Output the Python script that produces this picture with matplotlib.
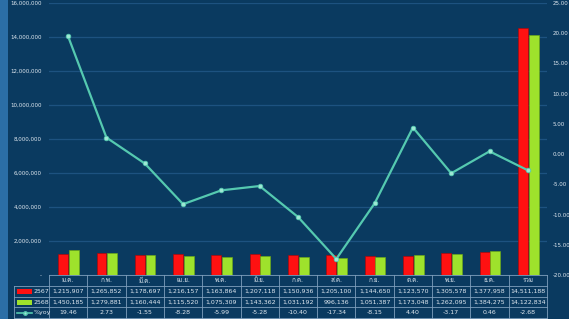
import matplotlib
matplotlib.use("Agg")
import matplotlib.pyplot as plt
import numpy as np
from matplotlib.lines import Line2D
from matplotlib.patches import Rectangle

plt.rcParams['font.family'] = ['DejaVu Sans', 'Loma']

months = ["ม.ค.", "ก.พ.", "มี.ค.", "เม.ย.", "พ.ค.", "มิ.ย.", "ก.ค.", "ส.ค.",
          "ก.ย.", "ต.ค.", "พ.ย.", "ธ.ค.", "รวม"]
y2567 = [1215907, 1265852, 1178697, 1216157, 1163864, 1207118, 1150936,
         1205100, 1144650, 1123570, 1305578, 1377958, 14511188]
y2568 = [1450185, 1279881, 1160444, 1115520, 1075309, 1143362, 1031192,
         996136, 1051387, 1173048, 1262095, 1384275, 14122834]
yoy = [19.46, 2.73, -1.55, -8.28, -5.99, -5.28, -10.40, -17.34, -8.15,
       4.40, -3.17, 0.46, -2.68]
series_names = ["2567", "2568", "%yoy"]

W, H = 569, 319
BG = '#0a3a60'
TXT = '#dfe8f0'
GRID = '#1d5280'
TBL = '#7f9fbd'
RED = '#ff1111'
GREEN = '#9ee22c'
LINE = '#55c9b0'

fig = plt.figure(figsize=(W / 100, H / 100), dpi=100, facecolor=BG)

def fx(px):
    return px / W

def fy(py):
    return 1 - py / H

# left strip artifact
fig.patches.append(Rectangle((0, 0), fx(8), 1, transform=fig.transFigure,
                             facecolor='#2b6ea6', edgecolor='none', zorder=-10))

L, R, T, B = 49, 547, 3, 275
ax = fig.add_axes([fx(L), fy(B), fx(R - L), (B - T) / H])
ax.set_facecolor(BG)
x = np.arange(len(months))
bw = 0.26
ax.bar(x - 0.13, y2567, width=bw, color=RED, edgecolor='#b30000', linewidth=0.4, zorder=3)
ax.bar(x + 0.15, y2568, width=bw, color=GREEN, edgecolor='#6fae10', linewidth=0.4, zorder=3)
ax.set_xlim(-0.5, len(months) - 0.5)
ax.set_ylim(0, 16000000)
ticks = np.arange(0, 16000001, 2000000)
ax.set_yticks(ticks)
ax.set_yticklabels(['-'] + [f"{int(t):,}" for t in ticks[1:]], fontsize=4.0, color=TXT)
ax.set_xticks([])
ax.tick_params(axis='y', length=0, pad=5)
ax.grid(axis='y', color=GRID, linewidth=0.9, zorder=0)
for s in ax.spines.values():
    s.set_visible(False)

ax2 = ax.twinx()
ax2.set_ylim(-20, 25)
rt = np.arange(-20, 26, 5)
ax2.set_yticks(rt)
ax2.set_yticklabels([f"{v:.2f}" for v in rt], fontsize=4.0, color=TXT)
ax2.tick_params(axis='y', length=0, pad=4)
for s in ax2.spines.values():
    s.set_visible(False)
ax2.plot(x, yoy, color=LINE, linewidth=1.6, marker='o', markersize=3.3,
         markerfacecolor='#9ee8d4', markeredgecolor=LINE, markeredgewidth=0.6, zorder=5)

# data table
rows_y = [275, 286, 297, 307, 318]
colw = (R - L) / len(months)
LEG_L = 14

def hline(x0, x1, y):
    fig.add_artist(Line2D([fx(x0), fx(x1)], [fy(y), fy(y)], transform=fig.transFigure,
                          color=TBL, linewidth=0.6))

def vline(xp, y0, y1):
    fig.add_artist(Line2D([fx(xp), fx(xp)], [fy(y0), fy(y1)], transform=fig.transFigure,
                          color=TBL, linewidth=0.6))

hline(L, R, rows_y[0])
for yy in rows_y[1:]:
    hline(LEG_L, R, yy)
vline(LEG_L, rows_y[1], rows_y[-1])
for i in range(len(months) + 1):
    vline(L + i * colw, rows_y[0], rows_y[-1])

fs = 4.5
for i, m in enumerate(months):
    cx = L + (i + 0.5) * colw
    cy = (rows_y[0] + rows_y[1]) / 2
    fig.text(fx(cx), fy(cy), m, ha='center', va='center', fontsize=fs, color=TXT)
    vals = [f"{y2567[i]:,}", f"{y2568[i]:,}", f"{yoy[i]:.2f}"]
    for r, v in enumerate(vals):
        cy = (rows_y[r + 1] + rows_y[r + 2]) / 2
        fig.text(fx(cx), fy(cy), v, ha='center', va='center', fontsize=fs, color=TXT)

# legend keys in table
for r, (name, col) in enumerate(zip(series_names[:2], [RED, GREEN])):
    cy = (rows_y[r + 1] + rows_y[r + 2]) / 2
    fig.patches.append(Rectangle((fx(17), fy(cy + 2.5)), fx(15), 5 / H,
                                 transform=fig.transFigure, facecolor=col,
                                 edgecolor='none'))
    fig.text(fx(34), fy(cy), name, ha='left', va='center', fontsize=fs, color=TXT)
cy = (rows_y[3] + rows_y[4]) / 2
fig.add_artist(Line2D([fx(17), fx(32)], [fy(cy), fy(cy)], transform=fig.transFigure,
                      color=LINE, linewidth=1.2))
fig.add_artist(Line2D([fx(24.5)], [fy(cy)], transform=fig.transFigure, marker='o',
                      markersize=2.5, color=LINE, markerfacecolor='#9ee8d4'))
fig.text(fx(34), fy(cy), series_names[2], ha='left', va='center', fontsize=fs, color=TXT)

fig.savefig("out.png", dpi=100, facecolor=BG)
